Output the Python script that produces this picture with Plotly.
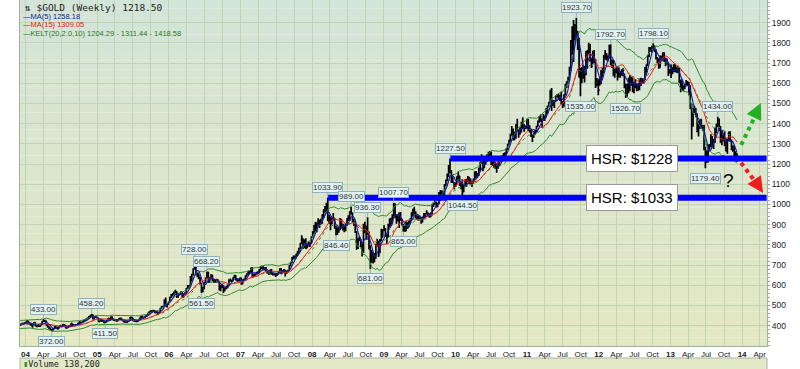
import pandas as pd
import plotly.graph_objects as go

# ---------------- data (weekly) ----------------
first_week = "2003-12-05"

close = [
    406, 411, 409, 414,  # 2003
    418, 424, 409, 409, 400, 405, 415, 399, 397, 401, 398, 409, 421, 423, 425, 404, 395, 388, 381, 376, 385, 395,
    392, 384, 396, 400, 397, 406, 403, 389, 391, 399, 400, 411, 406, 401, 404, 404, 411, 419, 416, 418, 426, 428,
    434, 437, 445, 450, 454, 434, 442, 443, 438,  # 2004
    420, 424, 427, 423, 415, 419, 426, 436, 429, 444, 431, 427, 427, 423, 429, 436, 436, 427, 421, 420, 417,
    425, 425, 441, 439, 426, 423, 421, 423, 429, 438, 446, 440, 441, 447, 451, 462, 468, 473, 472, 474, 464, 469,
    459, 466, 485, 495, 495, 525, 498, 506, 517,  # 2005
    540, 551, 558, 566, 567, 542, 553, 558, 566, 541, 557, 560, 584, 593, 598, 625, 654, 680, 718, 655, 658,
    642, 610, 571, 586, 614, 636, 664, 616, 633, 651, 623, 619, 617, 626, 620, 577, 598, 598, 573, 589, 588, 602,
    625, 625, 621, 638, 648, 628, 628, 622, 635,  # 2006
    607, 627, 631, 645, 656, 666, 664, 685, 644, 654, 655, 663, 662, 676, 691, 692, 678, 686, 668, 664, 657,
    675, 658, 654, 656, 650, 656, 666, 681, 660, 670, 677, 660, 670, 673, 697, 712, 736, 743, 737, 754, 763, 783,
    806, 833, 787, 823, 783, 799, 797, 809, 838,  # 2007
    864, 895, 880, 907, 908, 922, 908, 948, 972, 974, 1001, 920, 934, 904, 926, 931, 887, 853, 883, 876, 925, 885,
    900, 871, 903, 930, 933, 963, 957, 925, 911, 864, 785, 829, 832, 806, 769, 862, 882, 830, 859, 785, 730, 717,
    736, 747, 795, 814, 752, 822, 838, 874,  # 2008
    878, 853, 840, 899, 928, 914, 942, 1002, 942, 940, 929, 952, 924, 898, 883, 868, 912, 887, 914, 930, 958, 977,
    954, 940, 931, 941, 930, 912, 937, 951, 953, 957, 949, 952, 955, 996, 1006, 1012, 993, 1004, 1050, 1052, 1057,
    1046, 1096, 1119, 1146, 1180, 1162, 1119, 1110, 1104,  # 2009
    1097, 1138, 1140, 1099, 1083, 1064, 1092, 1120, 1118, 1134, 1104, 1106, 1105, 1125, 1161, 1137, 1153, 1180,
    1209, 1230, 1177, 1213, 1219, 1228, 1256, 1256, 1209, 1210, 1182, 1189, 1181, 1205, 1215, 1228, 1237, 1248,
    1246, 1274, 1297, 1318, 1346, 1368, 1328, 1357, 1394, 1368, 1353, 1363, 1406, 1384, 1377, 1380, 1421,  # 2010
    1370, 1361, 1343, 1338, 1349, 1361, 1388, 1409, 1429, 1421, 1418, 1428, 1429, 1474, 1486, 1503, 1556, 1492,
    1492, 1510, 1536, 1542, 1529, 1539, 1500, 1483, 1542, 1594, 1601, 1628, 1663, 1743, 1852, 1829, 1884, 1856,
    1814, 1656, 1624, 1636, 1682, 1642, 1747, 1756, 1788, 1725, 1685, 1745, 1713, 1598, 1606, 1566,  # 2011
    1617, 1639, 1665, 1738, 1725, 1725, 1725, 1776, 1710, 1712, 1658, 1662, 1669, 1643, 1659, 1643, 1664, 1645,
    1581, 1592, 1574, 1622, 1596, 1627, 1572, 1604, 1579, 1591, 1584, 1619, 1605, 1620, 1616, 1672, 1692, 1735,
    1771, 1774, 1773, 1781, 1758, 1725, 1710, 1676, 1732, 1715, 1751, 1712, 1701, 1697, 1657, 1656,  # 2012
    1656, 1662, 1684, 1658, 1667, 1667, 1610, 1578, 1576, 1577, 1592, 1607, 1595, 1581, 1476, 1404, 1462, 1470,
    1448, 1364, 1386, 1392, 1383, 1388, 1298, 1234, 1223, 1278, 1295, 1322, 1310, 1312, 1377, 1396, 1396, 1387,
    1308, 1333, 1339, 1310, 1272, 1316, 1352, 1315, 1287, 1288, 1244, 1250, 1218.5,  # 2013
]

high = [
    408, 412, 414, 416,  # 2003
    420, 427, 425, 414, 412, 407, 418, 417, 402, 404, 404, 411, 423, 433, 428, 425, 405, 397, 391, 384, 388, 397,
    397, 393, 398, 402, 401, 408, 409, 404, 393, 400, 403, 412, 411, 408, 406, 408, 414, 421, 421, 420, 427, 432,
    436, 440, 448, 452, 458.2, 455, 444, 445, 444,  # 2004
    437, 428, 429, 428, 424, 420, 428, 438, 438, 446, 445, 433, 430, 429, 432, 438, 438, 436, 429, 423, 421,
    427, 428, 443, 445, 439, 428, 426, 426, 431, 440, 448, 448, 444, 449, 453, 464, 471, 476, 477, 479, 476, 472,
    470, 468, 487, 497, 499, 531, 539, 509, 520,  # 2005
    543, 557, 561, 569, 578, 571, 559, 563, 570, 567, 559, 566, 586, 601, 602, 646, 657, 684, 728, 720, 665,
    656, 641, 611, 593, 616, 638, 668.2, 667, 641, 655, 652, 629, 628, 632, 630, 622, 602, 605, 601, 591, 597, 605,
    630, 634, 628, 640, 652, 650, 632, 630, 638,  # 2006
    638, 629, 634, 648, 660, 669, 670, 688, 690, 656, 659, 666, 669, 679, 694, 697, 694, 689, 690, 671, 667,
    678, 680, 662, 660, 657, 660, 668, 684, 685, 674, 680, 676, 673, 677, 701, 716, 740, 747, 748, 756, 771, 786,
    811, 848, 832, 828, 833, 806, 818, 813, 843,  # 2007
    868, 898, 915, 912, 932, 925, 930, 952, 976, 993, 1008, 1033.9, 948, 940, 935, 958, 933, 893, 886, 891, 933, 927,
    904, 898, 908, 932, 947, 967, 989, 962, 928, 916, 868, 835, 843, 830, 808, 905, 914, 896, 936.3, 866, 798, 775,
    765, 760, 806, 830, 820, 829, 880, 877,  # 2008
    897, 883, 853, 905, 931, 934, 951, 1007.7, 1006, 951, 947, 962, 963, 929, 903, 895, 917, 912, 919, 932, 961, 979,
    989, 966, 947, 945, 946, 938, 940, 958, 958, 972, 960, 955, 961, 998, 1010, 1025, 1014, 1009, 1062, 1072, 1070,
    1066, 1101, 1123, 1153, 1195, 1227.5, 1170, 1140, 1110,  # 2009
    1110, 1140, 1162, 1142, 1111, 1125, 1096, 1125, 1127, 1141, 1136, 1128, 1109, 1128, 1163, 1166, 1156, 1182,
    1210, 1249, 1232, 1223, 1232, 1250, 1261, 1265, 1262, 1213, 1218, 1204, 1194, 1213, 1218, 1233, 1243, 1255,
    1259, 1278, 1300, 1320, 1350, 1388, 1376, 1361, 1398, 1424, 1370, 1382, 1410, 1432, 1397, 1391, 1424,  # 2010
    1423, 1392, 1374, 1346, 1362, 1368, 1390, 1415, 1437, 1445, 1425, 1448, 1440, 1476, 1490, 1508, 1568, 1577,
    1517, 1515, 1539, 1547, 1549, 1543, 1558, 1512, 1546, 1596, 1610, 1632, 1682, 1814, 1882, 1913, 1893, 1923.7,
    1858, 1825, 1677, 1680, 1690, 1685, 1759, 1765, 1801, 1795, 1725, 1761, 1765, 1720, 1626, 1620,  # 2011
    1627, 1665, 1675, 1740, 1764, 1750, 1739, 1790, 1792.7, 1718, 1714, 1671, 1677, 1679, 1678, 1660, 1669, 1675,
    1648, 1597, 1597, 1628, 1640, 1632, 1628, 1606, 1621, 1599, 1600, 1623, 1627, 1625, 1625, 1680, 1693, 1741,
    1779, 1779, 1786, 1798.1, 1787, 1768, 1730, 1723, 1737, 1737, 1754, 1754, 1726, 1723, 1699, 1670,  # 2012
    1694, 1680, 1694, 1696, 1683, 1684, 1675, 1618, 1619, 1590, 1597, 1616, 1611, 1606, 1590, 1500, 1477, 1488,
    1477, 1450, 1416, 1420, 1424, 1393, 1395, 1286, 1267, 1297, 1299, 1348, 1339, 1324, 1380, 1399, 1434, 1425,
    1387, 1369, 1345, 1362, 1325, 1326, 1361, 1362, 1322, 1292, 1294, 1264, 1254,  # 2013
]

low = [
    398, 402, 405, 407,  # 2003
    412, 416, 406, 405, 398, 390, 404, 397, 392, 393, 393, 397, 407, 418, 418, 400, 390, 383, 377, 372, 376, 384,
    387, 382, 384, 393, 393, 396, 399, 387, 385, 389, 395, 399, 403, 398, 397, 401, 403, 409, 412, 413, 417, 423,
    426, 431, 436, 443, 448, 431, 432, 439, 435,  # 2004
    418, 418, 420, 420, 412, 411.5, 417, 425, 427, 429, 428, 424, 422, 421, 422, 428, 430, 425, 419, 415, 414,
    415, 421, 424, 436, 423, 419, 418, 417, 420, 428, 436, 438, 437, 438, 443, 449, 460, 464, 468, 468, 461, 462,
    456, 457, 465, 484, 490, 495, 496, 490, 504,  # 2005
    516, 538, 545, 553, 561, 537, 538, 549, 555, 537, 540, 553, 558, 580, 585, 598, 620, 648, 680, 650, 640,
    630, 605, 561.5, 565, 580, 610, 634, 614, 615, 630, 620, 612, 614, 614, 614, 574, 570, 587, 562, 571, 580, 585,
    600, 617, 615, 620, 636, 624, 618, 619, 620,  # 2006
    603, 605, 620, 628, 643, 652, 657, 662, 637, 640, 644, 653, 658, 660, 675, 680, 675, 674, 665, 657, 651,
    655, 652, 649, 650, 641, 646, 654, 664, 655, 659, 662, 643, 656, 663, 672, 694, 711, 728, 730, 732, 752, 757,
    781, 805, 780, 786, 780, 785, 792, 790, 808,  # 2007
    835, 853, 868, 863, 897, 883, 901, 905, 935, 960, 965, 918, 905, 872, 902, 922, 880, 846.4, 850, 860, 872, 881,
    871, 862, 868, 896, 918, 920, 950, 911, 894, 859, 776, 780, 818, 790, 742, 760, 860, 825, 848, 777, 681, 712,
    708, 714, 731, 792, 740, 758, 818, 840,  # 2008
    868, 840, 805, 836, 887, 896, 902, 940, 932, 904, 916, 884, 919, 896, 865, 866, 867, 880, 887, 905, 924, 940,
    950, 930, 925, 920, 925, 905, 912, 933, 937, 953, 940, 934, 938, 946, 989, 999, 985, 986, 1001, 1040, 1043,
    1026, 1040, 1092, 1115, 1136, 1155, 1106, 1106, 1075,  # 2009
    1087, 1099, 1124, 1091, 1075, 1044.5, 1060, 1091, 1086, 1112, 1100, 1100, 1087, 1104, 1121, 1130, 1131, 1141,
    1165, 1202, 1165, 1180, 1196, 1212, 1222, 1228, 1195, 1190, 1180, 1177, 1157, 1177, 1192, 1212, 1221, 1232,
    1239, 1243, 1270, 1291, 1311, 1340, 1317, 1318, 1325, 1362, 1330, 1345, 1356, 1375, 1360, 1372, 1375,  # 2010
    1363, 1356, 1334, 1309, 1330, 1345, 1357, 1385, 1405, 1410, 1380, 1414, 1413, 1430, 1451, 1484, 1500, 1462,
    1488, 1477, 1507, 1530, 1518, 1512, 1496, 1478, 1481, 1540, 1577, 1600, 1612, 1660, 1742, 1705, 1812, 1827,
    1764, 1627, 1535, 1600, 1622, 1604, 1640, 1672, 1745, 1706, 1676, 1694, 1700, 1577, 1585, 1540,  # 2011
    1588, 1595, 1629, 1651, 1716, 1712, 1708, 1722, 1689, 1675, 1635, 1627, 1650, 1613, 1629, 1627, 1637, 1634,
    1575, 1526.7, 1533, 1550, 1560, 1587, 1555, 1550, 1575, 1560, 1563, 1565, 1586, 1600, 1598, 1615, 1652, 1685,
    1729, 1755, 1752, 1764, 1755, 1717, 1699, 1672, 1677, 1708, 1713, 1705, 1684, 1691, 1636, 1648,  # 2012
    1626, 1645, 1655, 1655, 1652, 1650, 1600, 1555, 1565, 1563, 1572, 1589, 1590, 1540, 1473, 1321, 1385, 1451,
    1432, 1358, 1337, 1375, 1375, 1366, 1268, 1179.4, 1207, 1208, 1266, 1285, 1282, 1274, 1304, 1352, 1384, 1365,
    1306, 1293, 1312, 1288, 1262, 1251, 1314, 1310, 1268, 1261, 1239, 1232, 1211,  # 2013
]

# labelled highs / lows
label_dates = ["2004-04-02", "2004-05-14", "2004-12-03", "2005-02-11", "2006-05-12", "2006-07-14", "2006-06-16",
               "2008-03-21", "2008-07-18", "2008-05-02", "2008-10-10", "2008-10-24", "2009-02-20", "2009-04-10",
               "2009-12-04", "2010-02-05", "2011-09-09", "2011-09-30", "2012-03-02", "2012-05-18", "2012-10-05",
               "2013-08-30", "2013-06-28"]
label_values = [433.00, 372.00, 458.20, 411.50, 728.00, 668.20, 561.50,
                1033.90, 989.00, 846.40, 936.30, 681.00, 1007.70, 865.00,
                1227.50, 1044.50, 1923.70, 1535.00, 1792.70, 1526.70, 1798.10,
                1434.00, 1179.40]
label_is_high = [True, False, True, False, True, True, False,
                 True, True, False, True, False, True, False,
                 True, False, True, False, True, False, True,
                 True, False]

# support levels drawn by hand
hsr_levels = [1228, 1033]
hsr_start = ["2009-12-04", "2008-03-21"]
hsr_texts = ["HSR: $1228", "HSR: $1033"]

# legend readings
title_text = "$GOLD (Weekly) 1218.50"
legend_texts = ["MA(5) 1258.18", "MA(15) 1309.05", "KELT(20,2.0,10) 1204.29 - 1311.44 - 1418.58"]
volume_text = "Volume 138,200"

# axis tick labels
year_labels = ["04", "05", "06", "07", "08", "09", "10", "11", "12", "13", "14"]
month_labels = ["Apr", "Jul", "Oct"]
y_ticks = [400, 500, 600, 700, 800, 900, 1000, 1100, 1200, 1300, 1400, 1500, 1600, 1700, 1800, 1900]

assert len(close) == len(high) == len(low) == 523, (len(close), len(high), len(low))

# ---------------- derived indicators ----------------
dates = pd.date_range(start=first_week, periods=len(close), freq="W-FRI")
df = pd.DataFrame({"c": close, "h": high, "l": low}, index=dates)
prev = df["c"].shift(1).fillna(df["c"])
df["o"] = prev
ma5 = df["c"].rolling(5, min_periods=1).mean()
ma15 = df["c"].rolling(15, min_periods=1).mean()
mid = df["c"].ewm(span=20, adjust=False).mean()
tr = pd.concat([df["h"] - df["l"], (df["h"] - prev).abs(), (df["l"] - prev).abs()], axis=1).max(axis=1)
atr = tr.ewm(alpha=1 / 10, adjust=False).mean()
upper = mid + 2 * atr
lower = mid - 2 * atr

# ---------------- figure ----------------
GREEN = "#2f8a2f"
fig = go.Figure()

fig.add_trace(go.Ohlc(x=dates, open=df["o"], high=df["h"], low=df["l"], close=df["c"],
                      increasing=dict(line=dict(color="black", width=1.7)),
                      decreasing=dict(line=dict(color="black", width=1.7)),
                      tickwidth=0.5, hoverinfo="skip", showlegend=False))
fig.add_trace(go.Scatter(x=dates, y=upper, mode="lines", line=dict(color=GREEN, width=1), hoverinfo="skip"))
fig.add_trace(go.Scatter(x=dates, y=lower, mode="lines", line=dict(color=GREEN, width=1), hoverinfo="skip"))
fig.add_trace(go.Scatter(x=dates, y=mid, mode="lines", line=dict(color=GREEN, width=1, dash="dot"), hoverinfo="skip"))
fig.add_trace(go.Scatter(x=dates, y=ma15, mode="lines", line=dict(color="#ff1a1a", width=1), hoverinfo="skip"))
fig.add_trace(go.Scatter(x=dates, y=ma5, mode="lines", line=dict(color="#1818b0", width=1.1), hoverinfo="skip"))

shapes = []
# gradient background of the price panel
top_rgb = (211, 228, 216)
bot_rgb = (228, 232, 194)
N = 40
for i in range(N):
    t = (i + 0.5) / N
    col = tuple(round(bot_rgb[k] + (top_rgb[k] - bot_rgb[k]) * t) for k in range(3))
    shapes.append(dict(type="rect", xref="x domain", yref="y domain", x0=0, x1=1, y0=i / N, y1=(i + 1) / N,
                       fillcolor="rgb(%d,%d,%d)" % col, line=dict(width=0), layer="below"))
# volume panel strip
shapes.append(dict(type="rect", xref="paper", yref="paper", x0=0, x1=1, y0=-0.0347, y1=-0.09,
                   fillcolor="#e3e8c6", line=dict(color="#aab4a0", width=1), layer="below"))
# HSR lines
for lvl, st in zip(hsr_levels, hsr_start):
    shapes.append(dict(type="line", xref="x", yref="y", x0=st, x1="2014-05-06", y0=lvl, y1=lvl,
                       line=dict(color="#0000ff", width=6), layer="above"))
# dotted arrows (bodies)
shapes.append(dict(type="line", xref="x", yref="y", x0="2013-12-27", y0=1295, x1="2014-03-20", y1=1460,
                   line=dict(color="#22b022", width=4, dash="dot"), layer="above"))
shapes.append(dict(type="line", xref="x", yref="y", x0="2013-12-27", y0=1206, x1="2014-03-28", y1=1088,
                   line=dict(color="#ee1c1c", width=4, dash="dot"), layer="above"))

annotations = []
# price labels
for d, v, hi in zip(label_dates, label_values, label_is_high):
    annotations.append(dict(x=d, y=v, xref="x", yref="y", text="%.2f" % v, showarrow=True,
                            arrowhead=0, arrowwidth=1, arrowcolor="#8fb3bd", ax=0, ay=-10 if hi else 10,
                            bgcolor="#e2f2f2", bordercolor="#8fb3bd", borderwidth=1, borderpad=0,
                            font=dict(family="Liberation Sans, Arial", size=8, color="#333333")))
# HSR boxes
for lvl, txt in zip(hsr_levels, hsr_texts):
    annotations.append(dict(x=(586 - 20) / 747, y=lvl, xref="paper", yref="y", xanchor="left", yanchor="middle",
                            text=txt, showarrow=False, bgcolor="white", bordercolor="#9a9a9a", borderwidth=1,
                            borderpad=4, font=dict(family="Liberation Sans, Arial", size=15, color="black")))
# arrow heads
annotations.append(dict(x="2014-04-07", y=1502, ax="2014-03-15", ay=1455, xref="x", yref="y", axref="x", ayref="y",
                        text="", showarrow=True, arrowhead=2, arrowsize=0.8, arrowwidth=4, arrowcolor="#22b022"))
annotations.append(dict(x="2014-04-18", y=1057, ax="2014-03-25", ay=1092, xref="x", yref="y", axref="x", ayref="y",
                        text="", showarrow=True, arrowhead=2, arrowsize=0.8, arrowwidth=4, arrowcolor="#ee1c1c"))
annotations.append(dict(x="2013-10-22", y=1121, xref="x", yref="y", text="?", showarrow=False,
                        font=dict(family="Liberation Sans, Arial", size=19, color="black")))
# title & legend
annotations.append(dict(x=0, y=1 - 8 / 346, xref="paper", yref="paper", xanchor="left", yanchor="middle",
                        xshift=3, text="⇅ " + title_text, showarrow=False,
                        font=dict(family="DejaVu Sans Mono", size=9.5, color="#222222")))
leg_colors = ["#1818a0", "#e01818", "#1f7a1f"]
for i, (txt, colr) in enumerate(zip(legend_texts, leg_colors)):
    annotations.append(dict(x=0, y=1 - (16.5 + 8.3 * i) / 346, xref="paper", yref="paper", xanchor="left",
                            yanchor="middle", xshift=1, text="—" + txt, showarrow=False,
                            font=dict(family="Liberation Sans, Arial", size=7.5, color=colr)))
annotations.append(dict(x=0, y=-0.052, xref="paper", yref="paper", xanchor="left", yanchor="middle", xshift=1,
                        text="<span style='color:#2a9a2a'>▮</span>" + volume_text, showarrow=False,
                        font=dict(family="DejaVu Sans Mono", size=8.5, color="#222222")))

# x ticks
tickvals, ticktext = [], []
for yi, yl in enumerate(year_labels):
    yr = 2004 + yi
    tickvals.append("%d-01-01" % yr)
    ticktext.append("<b>%s</b>" % yl)
    for mi, ml in enumerate(month_labels):
        if yr == 2014 and mi > 0:
            break
        tickvals.append("%d-%02d-01" % (yr, 4 + 3 * mi))
        ticktext.append(ml)

fig.update_layout(
    width=800, height=369, autosize=False,
    margin=dict(l=20, r=33, t=0, b=23),
    paper_bgcolor="white", plot_bgcolor="rgba(0,0,0,0)",
    showlegend=False, hovermode=False,
    shapes=shapes, annotations=annotations,
    xaxis=dict(type="date", range=["2003-12-04", "2014-05-08"], rangeslider=dict(visible=False),
               tickvals=tickvals, ticktext=ticktext, showgrid=True, gridcolor="#c3d4b6", gridwidth=1,
               ticks="", tickfont=dict(family="Liberation Sans, Arial", size=8, color="#222222"),
               showline=True, linecolor="#9fb0a0", mirror=True, zeroline=False, fixedrange=True),
    yaxis=dict(range=[299.5, 2012], side="right", tickvals=y_ticks, showgrid=True, gridcolor="#c3d4b6",
               gridwidth=1, ticks="outside", ticklen=2, tickcolor="#8a9a9a",
               tickfont=dict(family="Liberation Sans, Arial", size=8.5, color="#222222"),
               showline=True, linecolor="#9fb0a0", mirror=True, zeroline=False, fixedrange=True,
               minor=dict(ticks="outside", ticklen=2, dtick=20, tickcolor="#9aa8b0", showgrid=False)),
)

fig.write_html("out.html", config={"displayModeBar": False, "staticPlot": True},
               post_script="document.body.style.margin='0';document.body.style.overflow='hidden';")
